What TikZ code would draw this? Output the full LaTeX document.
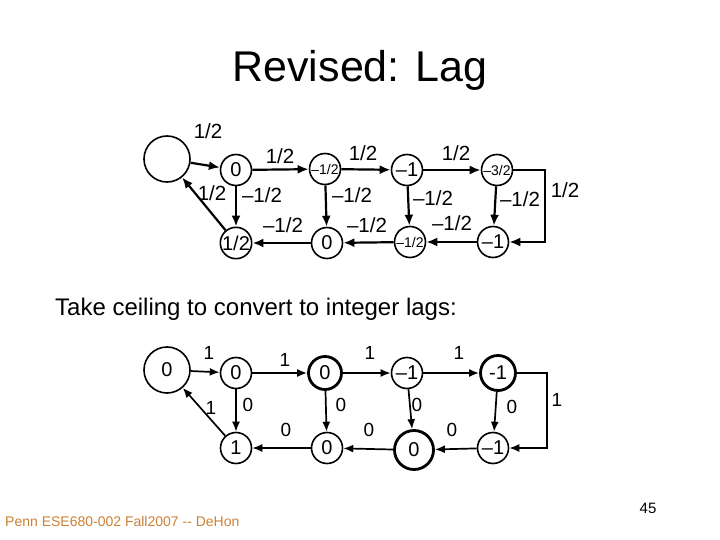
\documentclass[tikz,border=0pt]{standalone}
\usepackage{fontspec}
\setmainfont{Liberation Sans}
\usetikzlibrary{arrows.meta}
\begin{document}
\begin{tikzpicture}[x=1pt,y=-1pt,
  nd/.style={circle,draw,line width=1.6pt,minimum size=31pt,inner sep=0pt,font=\fontsize{20}{20}\selectfont},
  big/.style={nd,minimum size=46pt},
  thk/.style={line width=2.8pt},
  sm/.style={font=\fontsize{14}{14}\selectfont},
  ed/.style={line width=2.2pt,-{Latex[length=11pt,width=9pt]}},
  edb/.style={line width=1.7pt,-{Latex[length=10pt,width=8pt]}},
  lb/.style={font=\fontsize{20.5}{20.5}\selectfont,inner sep=0pt},
  lbb/.style={font=\fontsize{19}{19}\selectfont,inner sep=0pt}]
\useasboundingbox (0,0) rectangle (720,540);
\node[font=\fontsize{43}{43}\selectfont] (title) at (360,70) {Revised: Lag};
\node[font=\fontsize{24}{24}\selectfont,anchor=west,inner sep=0pt] (take) at (55,309) {Take ceiling to convert to integer lags:};
\node[font=\fontsize{14}{14}\selectfont,anchor=west,inner sep=0pt,text={rgb,255:red,204;green,128;blue,51}] (foot) at (5,521) {Penn ESE680-002 Fall2007 -{}- DeHon};
\node[font=\fontsize{15}{15}\selectfont,inner sep=0pt] (pg) at (648,508) {45};
% top graph
\node[big] (A) at (167,159) {};
\node[nd] (B) at (236,170) {0};
\node[nd,sm] (C) at (325,169) {–1/2};
\node[nd] (D) at (407,170) {–1};
\node[nd,sm] (E) at (497,170) {–3/2};
\node[nd] (F) at (236,243) {1/2};
\node[nd] (G) at (327,243) {0};
\node[nd,sm] (H) at (410,242) {–1/2};
\node[nd] (I) at (493,242) {–1};
\coordinate (r1) at (545,170);
\coordinate (r2) at (545,242);
\draw[ed] (A) -- (B);
\draw[ed] (B) -- (C);
\draw[ed] (C) -- (D);
\draw[ed] (D) -- (E);
\draw[ed] (E) -- (r1) -- (r2) -- (I);
\draw[ed] (B) -- (F);
\draw[ed] (C) -- (G);
\draw[ed] (D) -- (H);
\draw[ed] (E) -- (I);
\draw[ed] (I) -- (H);
\draw[ed] (H) -- (G);
\draw[ed] (G) -- (F);
\draw[ed] (F) -- (A);
\node[lb] at (208,131) {1/2};
\node[lb] at (280,156) {1/2};
\node[lb] at (363,153) {1/2};
\node[lb] at (456,153) {1/2};
\node[lb] at (212,193) {1/2};
\node[lb] at (262,195) {–1/2};
\node[lb] at (352,195) {–1/2};
\node[lb] at (433,198) {–1/2};
\node[lb] at (520,199) {–1/2};
\node[lb] at (565,190) {1/2};
\node[lb] at (283,225) {–1/2};
\node[lb] at (367,225) {–1/2};
\node[lb] at (452,223) {–1/2};
% bottom graph
\node[big] (A2) at (167,370) {0};
\node[nd] (B2) at (236,373) {0};
\node[nd,thk,minimum size=33pt] (C2) at (325,373) {0};
\node[nd] (D2) at (407,373) {–1};
\node[nd,thk,minimum size=35pt] (E2) at (498,373) {-1};
\node[nd] (F2) at (236,448) {1};
\node[nd] (G2) at (327,448) {0};
\node[nd,thk,minimum size=39pt] (H2) at (414,450) {0};
\node[nd] (I2) at (493,448) {–1};
\coordinate (s1) at (547,373);
\coordinate (s2) at (547,448);
\draw[edb] (A2) -- (B2);
\draw[edb] (B2) -- (C2);
\draw[edb] (C2) -- (D2);
\draw[edb] (D2) -- (E2);
\draw[edb] (E2) -- (s1) -- (s2) -- (I2);
\draw[edb] (B2) -- (F2);
\draw[edb] (C2) -- (G2);
\draw[edb] (D2) -- (H2);
\draw[edb] (E2) -- (I2);
\draw[edb] (I2) -- (H2);
\draw[edb] (H2) -- (G2);
\draw[edb] (G2) -- (F2);
\draw[edb] (F2) -- (A2);
\node[lbb] at (209,353) {1};
\node[lbb] at (285,360) {1};
\node[lbb] at (370,353) {1};
\node[lbb] at (459,353) {1};
\node[lbb] at (557,400) {1};
\node[lbb] at (211,408) {1};
\node[lbb] at (248,405) {0};
\node[lbb] at (341,405) {0};
\node[lbb] at (417,405) {0};
\node[lbb] at (512,407) {0};
\node[lbb] at (286,430) {0};
\node[lbb] at (369,430) {0};
\node[lbb] at (452,430) {0};
\end{tikzpicture}
\end{document}
